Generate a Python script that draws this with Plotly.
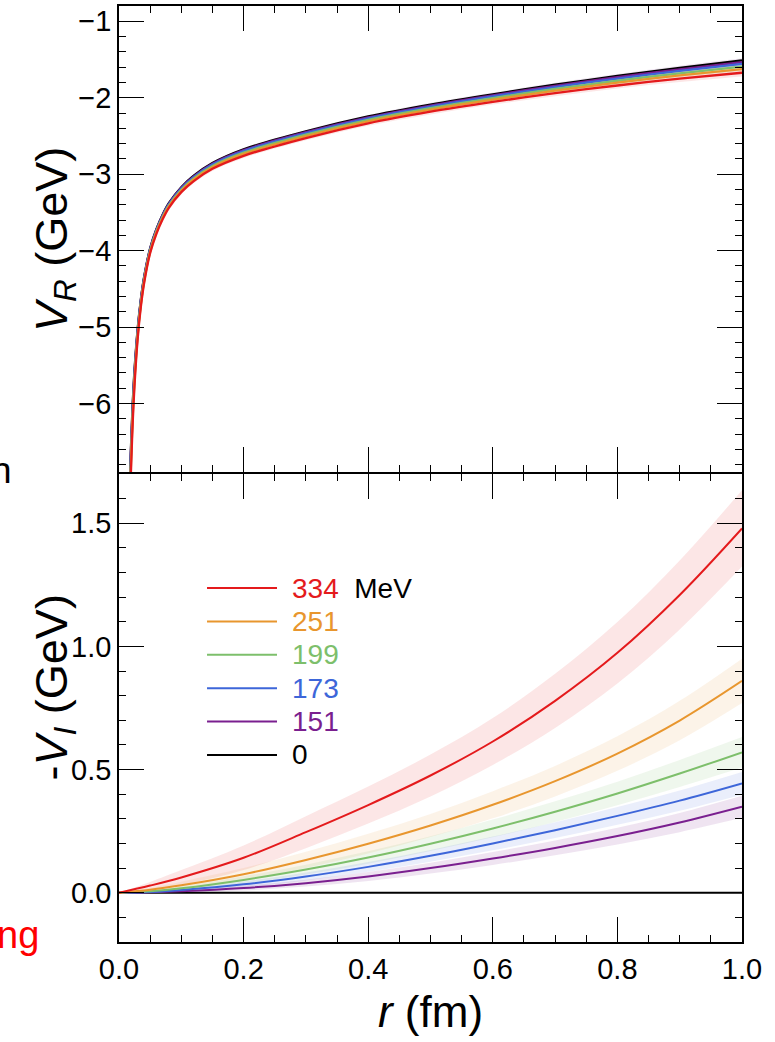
import plotly.graph_objects as go

# ---------------- data: top panel, real part V_R (GeV) ----------------
rR = [0.016, 0.018, 0.02, 0.022, 0.025, 0.03, 0.035, 0.04, 0.05, 0.06, 0.07, 0.08,
      0.1, 0.12, 0.15, 0.2, 0.3, 0.4, 0.5, 0.6, 0.7, 0.8, 0.9, 1.0]
VR_0 = [-7.45, -6.85, -6.4, -6.0, -5.55, -5.02, -4.64, -4.36, -3.97, -3.72, -3.53, -3.38,
        -3.17, -3.02, -2.855, -2.675, -2.44, -2.245, -2.09, -1.955, -1.83, -1.715, -1.61, -1.513]
VR_151 = [-7.49, -6.895, -6.44, -6.033, -5.576, -5.037, -4.653, -4.37, -3.978, -3.728, -3.538, -3.388,
          -3.178, -3.029, -2.865, -2.686, -2.451, -2.257, -2.102, -1.968, -1.844, -1.731, -1.628, -1.534]
VR_173 = [-7.53, -6.945, -6.48, -6.068, -5.604, -5.055, -4.667, -4.382, -3.986, -3.736, -3.546, -3.396,
          -3.188, -3.039, -2.875, -2.698, -2.463, -2.269, -2.115, -1.982, -1.86, -1.749, -1.648, -1.556]
VR_199 = [-7.6, -7.025, -6.55, -6.125, -5.65, -5.085, -4.69, -4.4, -4.0, -3.75, -3.56, -3.41,
          -3.203, -3.055, -2.893, -2.718, -2.484, -2.29, -2.137, -2.005, -1.885, -1.778, -1.68, -1.593]
VR_251 = [-7.66, -7.095, -6.61, -6.175, -5.69, -5.111, -4.71, -4.416, -4.012, -3.762, -3.572, -3.422,
          -3.216, -3.069, -2.908, -2.735, -2.501, -2.308, -2.155, -2.025, -1.907, -1.803, -1.708, -1.625]
VR_334 = [-7.75, -7.2, -6.7, -6.25, -5.75, -5.15, -4.74, -4.44, -4.03, -3.78, -3.59, -3.44,
          -3.235, -3.09, -2.93, -2.76, -2.527, -2.335, -2.183, -2.055, -1.94, -1.84, -1.75, -1.673]
errR = [0.3, 0.3, 0.3, 0.25, 0.2, 0.15, 0.12, 0.1, 0.07, 0.05, 0.04, 0.035,
        0.03, 0.03, 0.03, 0.03, 0.03, 0.03, 0.035, 0.035, 0.04, 0.04, 0.045, 0.05]

# ---------------- data: bottom panel, -V_I (GeV) ----------------
rI = [0.0, 0.05, 0.1, 0.2, 0.3, 0.4, 0.5, 0.6, 0.7, 0.8, 0.9, 1.0]
VI_0 = [0, 0, 0, 0, 0, 0, 0, 0, 0, 0, 0, 0]
VI_151 = [0, 0.002, 0.006, 0.019, 0.039, 0.066, 0.1, 0.139, 0.182, 0.23, 0.285, 0.349]
VI_173 = [0, 0.003, 0.011, 0.034, 0.066, 0.105, 0.15, 0.2, 0.254, 0.312, 0.374, 0.444]
VI_199 = [0, 0.006, 0.018, 0.052, 0.094, 0.143, 0.199, 0.261, 0.329, 0.403, 0.484, 0.57]
VI_251 = [0, 0.012, 0.03, 0.075, 0.133, 0.199, 0.273, 0.357, 0.453, 0.565, 0.699, 0.86]
VI_334 = [0, 0.029, 0.062, 0.142, 0.246, 0.356, 0.476, 0.614, 0.779, 0.974, 1.209, 1.479]
errI_151 = [0, 0.002, 0.005, 0.01, 0.014, 0.018, 0.022, 0.026, 0.03, 0.034, 0.039, 0.045]
errI_173 = [0, 0.003, 0.006, 0.012, 0.016, 0.02, 0.024, 0.028, 0.032, 0.036, 0.041, 0.046]
errI_199 = [0, 0.004, 0.008, 0.015, 0.02, 0.025, 0.03, 0.036, 0.042, 0.048, 0.055, 0.062]
errI_251 = [0, 0.008, 0.015, 0.025, 0.033, 0.04, 0.047, 0.055, 0.062, 0.07, 0.08, 0.09]
errI_334 = [0, 0.015, 0.03, 0.05, 0.065, 0.075, 0.085, 0.095, 0.11, 0.125, 0.14, 0.155]

temps = ["334", "251", "199", "173", "151", "0"]
colors = ["#E41A1C", "#E8962E", "#7DBF6B", "#3D66D9", "#7A1F8F", "#000000"]
fills = ["rgba(228,26,28,0.11)", "rgba(232,150,46,0.11)", "rgba(125,191,107,0.12)",
         "rgba(61,102,217,0.11)", "rgba(122,31,143,0.12)", "rgba(0,0,0,0)"]

top_series = [VR_334, VR_251, VR_199, VR_173, VR_151, VR_0]
bot_series = [VI_334, VI_251, VI_199, VI_173, VI_151, VI_0]
bot_errs = [errI_334, errI_251, errI_199, errI_173, errI_151, None]

FONT = "Arial, Liberation Sans, Helvetica, sans-serif"
LW = 1.7
fig = go.Figure()


def add_band(x, y, e, fill, xa, ya):
    up = [v + d for v, d in zip(y, e)]
    lo = [v - d for v, d in zip(y, e)]
    fig.add_trace(go.Scatter(x=x, y=lo, mode="lines", line=dict(width=0, shape="spline"),
                             hoverinfo="skip", showlegend=False, xaxis=xa, yaxis=ya))
    fig.add_trace(go.Scatter(x=x, y=up, mode="lines", line=dict(width=0, shape="spline"),
                             fill="tonexty", fillcolor=fill,
                             hoverinfo="skip", showlegend=False, xaxis=xa, yaxis=ya))


# bands first
for i in range(5):
    add_band(rR, top_series[i], errR, fills[i], "x", "y")
    add_band(rI, bot_series[i], bot_errs[i], fills[i], "x2", "y2")

# lines (black drawn first, red on top)
for i in reversed(range(6)):
    fig.add_trace(go.Scatter(x=rR, y=top_series[i], mode="lines",
                             line=dict(color=colors[i], width=2.3, shape="spline", smoothing=0.8),
                             showlegend=False, xaxis="x", yaxis="y"))
    fig.add_trace(go.Scatter(x=rI, y=bot_series[i], mode="lines",
                             line=dict(color=colors[i], width=2.0, shape="spline", smoothing=1.0),
                             showlegend=False, xaxis="x2", yaxis="y2"))

axis_common = dict(showline=True, linecolor="black", linewidth=LW, mirror="ticks",
                   ticks="inside", ticklen=25, tickwidth=1.3, tickcolor="black",
                   showgrid=False, zeroline=False, automargin=False,
                   tickfont=dict(family=FONT, size=29, color="black"))

plot_h = 1042 - 6 - 100
top_lo = 0.5 + LW / plot_h  # lets the two panel frames share one line

fig.update_layout(
    width=775, height=1042,
    margin=dict(l=119, r=33, t=6, b=100, autoexpand=False),
    paper_bgcolor="white", plot_bgcolor="white",
    showlegend=False,
    xaxis=dict(domain=[0, 1], anchor="y", range=[0, 1], dtick=0.2, tick0=0,
               showticklabels=False,
               minor=dict(dtick=0.05, ticklen=7, tickwidth=1.2, tickcolor="black", ticks="inside"),
               **axis_common),
    yaxis=dict(domain=[top_lo, 1], anchor="x", range=[-6.9, -0.8], dtick=1, tick0=0,
               minor=dict(dtick=0.2, ticklen=7, tickwidth=1.2, tickcolor="black", ticks="inside"),
               **axis_common),
    xaxis2=dict(domain=[0, 1], anchor="y2", range=[0, 1], dtick=0.2, tick0=0,
                tickformat=".1f",
                minor=dict(dtick=0.05, ticklen=7, tickwidth=1.2, tickcolor="black", ticks="inside"),
                title=dict(text="<i>r</i> (fm)", standoff=13,
                           font=dict(family=FONT, size=44, color="black")),
                **axis_common),
    yaxis2=dict(domain=[0, 0.5], anchor="x2", range=[-0.2, 1.7], dtick=0.5, tick0=0,
                tickformat=".1f",
                minor=dict(dtick=0.1, ticklen=7, tickwidth=1.2, tickcolor="black", ticks="inside"),
                **axis_common),
)

# y-axis titles as rotated annotations
fig.add_annotation(xref="paper", yref="paper", x=-0.1043, y=0.75, textangle=-90,
                   text="<i>V</i><sub><i>R</i></sub> (GeV)", showarrow=False,
                   xanchor="center", yanchor="middle",
                   font=dict(family=FONT, size=45, color="black"))
fig.add_annotation(xref="paper", yref="paper", x=-0.1043, y=0.272, textangle=-90,
                   text="-<i>V</i><sub><i>I</i></sub> (GeV)", showarrow=False,
                   xanchor="center", yanchor="middle",
                   font=dict(family=FONT, size=45, color="black"))

# legend drawn inside the lower panel
leg_x0, leg_x1, leg_tx = 0.1413, 0.2536, 0.2745
leg_y = [0.3782, 0.3425, 0.3068, 0.2711, 0.2355, 0.1998]
for i in range(6):
    fig.add_shape(type="line", xref="paper", yref="paper", x0=leg_x0, x1=leg_x1,
                  y0=leg_y[i], y1=leg_y[i], line=dict(color=colors[i], width=2))
    label = f'<span style="color:{colors[i]}">{temps[i]}</span>'
    if i == 0:
        label += "  MeV"
    fig.add_annotation(xref="paper", yref="paper", x=leg_tx, y=leg_y[i], text=label,
                       showarrow=False, xanchor="left", yanchor="middle",
                       font=dict(family=FONT, size=28, color="black"))

# fragments of neighbouring text cut at the left edge
fig.add_annotation(xref="paper", yref="paper", x=-0.168, y=0.504, text="n", showarrow=False,
                   xanchor="right", yanchor="middle", font=dict(family=FONT, size=37, color="black"))
fig.add_annotation(xref="paper", yref="paper", x=-0.125, y=0.007, text="ng", showarrow=False,
                   xanchor="right", yanchor="middle", font=dict(family=FONT, size=38, color="#FF0000"))

fig.write_html("out.html", config={"displayModeBar": False},
               post_script="document.body.style.margin='0';")
